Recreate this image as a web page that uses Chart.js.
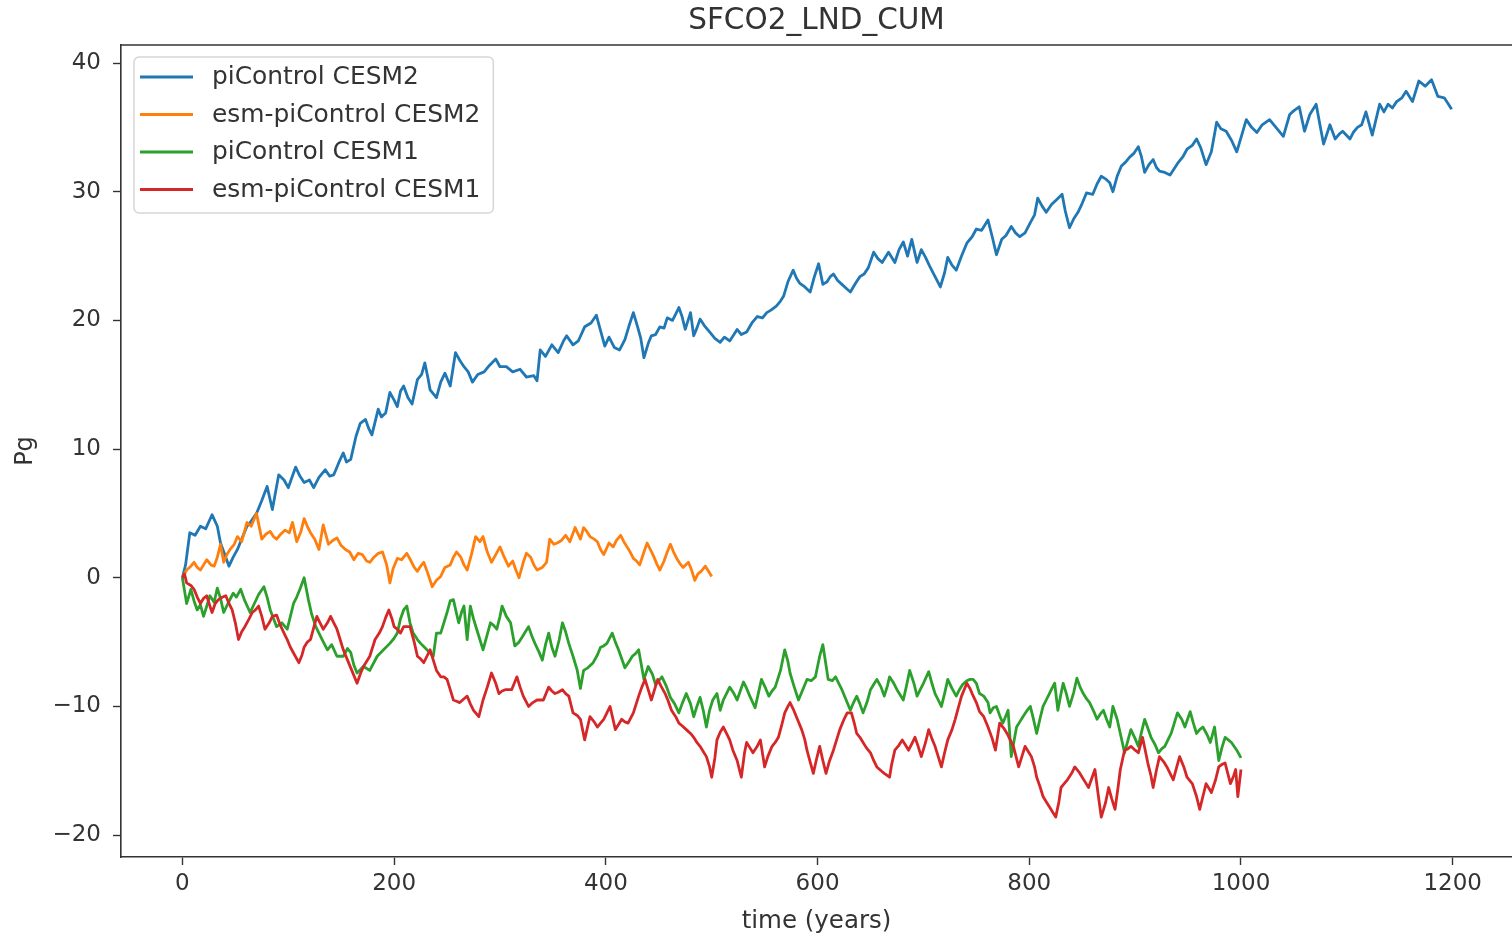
<!DOCTYPE html>
<html><head><meta charset="utf-8">
<script src="https://cdn.jsdelivr.net/npm/chart.js@4.4.1/dist/chart.umd.min.js"></script>
<style>html,body{margin:0;padding:0;background:#fff;overflow:hidden}#wrap{width:1512px;height:939px}</style>
</head><body><div id="wrap"><canvas id="c" width="1512" height="939"></canvas></div>
<script>
const titleText = 'SFCO2_LND_CUM';
const xLabel = 'time (years)';
const yLabel = 'Pg';
const seriesNames = ['piControl CESM2', 'esm-piControl CESM2', 'piControl CESM1', 'esm-piControl CESM1'];
const seriesColors = ['#1f77b4', '#ff7f0e', '#2ca02c', '#d62728'];
const xTicks = [0, 200, 400, 600, 800, 1000, 1200];
const yTicks = [-20, -10, 0, 10, 20, 30, 40];

const blueYears = [0,3,7,12,17,22,28,33,36,40,44,48,52,56,61,65,70,75,80,85,91,96,100,107,111,115,120,124,129,135,139,143,148,152,155,159,164,168,173,176,179,185,188,192,196,200,203,206,209,213,217,222,226,229,232,234,240,244,248,253,258,262,266,270,274,279,285,290,296,300,306,312,319,325,332,335,338,343,349,355,360,363,369,374,380,386,391,395,399,403,408,413,418,422,426,430,433,436,440,443,447,451,455,458,463,469,472,475,480,483,486,489,493,498,503,508,512,517,521,524,528,533,538,543,548,552,556,561,565,568,572,577,580,583,588,593,597,601,605,609,612,615,619,623,627,631,636,640,644,648,653,657,661,667,670,673,677,681,685,689,694,698,702,706,711,716,720,723,727,731,736,741,746,750,755,761,765,769,774,778,783,787,791,796,801,805,808,812,816,821,826,831,834,838,842,846,850,854,860,864,868,872,876,879,883,887,891,895,899,903,906,909,913,917,920,923,928,933,937,941,945,949,954,958,962,967,972,977,981,986,991,996,1000,1005,1010,1015,1020,1027,1033,1040,1046,1050,1055,1060,1065,1071,1075,1078,1084,1089,1093,1096,1103,1106,1110,1114,1118,1124,1131,1135,1139,1143,1147,1152,1156,1162,1168,1174,1180,1186,1192,1196,1199];
const blueVals = [0,1.0,3.5,3.3,4.0,3.8,4.9,4.0,2.7,1.8,0.9,1.6,2.2,3.0,4.0,4.4,5.0,6.0,7.1,5.3,8.0,7.6,7.0,8.6,7.9,7.4,7.6,7.0,7.8,8.4,7.9,8.0,9.0,9.7,9.0,9.2,11.0,12.0,12.3,11.6,11.1,13.1,12.5,12.8,14.4,13.8,13.3,14.5,14.9,14.0,13.5,15.4,15.8,16.7,15.5,14.6,14.0,15.2,15.9,14.9,17.5,16.9,16.4,16.0,15.2,15.8,16.0,16.5,17.0,16.4,16.4,16.0,16.2,15.6,15.7,15.3,17.7,17.2,18.1,17.5,18.4,18.8,18.1,18.4,19.5,19.8,20.4,19.2,18.0,18.7,17.9,17.7,18.5,19.6,20.6,19.5,18.6,17.1,18.2,18.8,18.9,19.5,19.4,20.2,20.0,21.0,20.3,19.3,20.6,18.8,19.4,20.1,19.6,19.1,18.6,18.3,18.7,18.4,18.9,19.3,18.9,19.1,19.8,20.3,20.2,20.6,20.8,21.1,21.5,21.9,23.0,23.9,23.3,22.9,22.6,22.2,23.4,24.4,22.8,23.0,23.4,23.6,23.1,22.8,22.5,22.2,22.9,23.4,23.6,24.1,25.3,24.8,24.5,25.3,24.9,24.5,25.5,26.1,25.0,26.3,24.5,25.5,24.9,24.2,23.4,22.6,23.7,24.9,24.3,23.9,25.0,26.0,26.5,27.1,27.0,27.8,26.5,25.1,26.3,26.6,27.3,26.8,26.5,26.8,27.6,28.2,29.5,28.9,28.4,29.0,29.4,29.8,28.5,27.2,27.9,28.4,29.1,29.9,29.8,30.6,31.2,31.0,30.7,30.0,31.2,32.0,32.3,32.7,33.0,33.5,32.7,31.5,32.1,32.5,31.9,31.6,31.5,31.3,31.8,32.3,32.7,33.3,33.6,34.1,33.4,32.1,33.1,35.4,34.9,34.7,34.0,33.1,34.2,35.6,35.0,34.6,35.2,35.6,35.0,34.3,36.0,36.3,36.6,34.7,36.0,36.8,35.0,33.7,35.2,34.1,34.5,34.7,34.1,34.6,35.0,35.2,36.2,34.4,36.8,36.2,36.8,36.5,37.0,37.3,37.8,37.0,38.6,38.2,38.7,37.4,37.3,36.8,36.4];

const orangeYears = [0,4,8,11,14,17,20,23,27,30,33,36,39,42,45,49,52,56,61,65,70,75,79,83,86,89,93,97,101,104,108,112,115,118,121,125,129,133,138,142,146,150,154,158,162,166,170,174,177,181,185,189,193,196,199,203,207,212,216,219,222,225,228,232,236,240,244,248,253,256,259,263,266,269,273,277,281,284,288,292,296,300,304,308,312,315,318,322,325,329,332,335,340,344,347,351,354,358,362,366,371,376,379,382,385,389,392,395,398,403,407,410,414,417,420,423,426,429,432,436,439,442,445,448,451,455,458,461,464,467,470,473,478,481,484,487,490,494,497,500];
const orangeVals = [0,0.6,0.9,1.2,0.8,0.6,1.0,1.4,1.0,0.9,1.6,2.6,1.2,1.8,2.2,2.6,3.2,2.8,4.3,4.0,5.0,3.0,3.4,3.6,3.2,3.0,3.4,3.7,3.5,4.3,2.8,3.6,4.6,4.0,3.5,3.0,2.2,4.1,2.6,2.9,3.1,2.5,2.2,2.0,1.4,1.9,1.8,1.3,1.2,1.6,1.9,2.0,1.0,-0.4,0.7,1.5,1.4,1.9,1.3,0.8,0.5,0.9,1.2,0.3,-0.7,-0.2,0.1,0.8,1.0,1.6,2.0,1.6,1.0,0.6,1.8,3.2,2.8,3.2,2.0,1.2,1.8,2.4,1.6,0.9,1.3,0.6,0.0,1.2,1.9,1.6,1.0,0.6,0.8,1.2,3.0,2.6,2.7,2.9,3.3,2.8,3.9,3.0,3.9,3.6,3.2,3.0,2.8,2.2,1.8,2.7,2.4,2.9,3.3,2.8,2.4,2.0,1.5,1.3,1.0,2.0,2.7,2.2,1.7,1.1,0.6,1.3,2.0,2.6,2.0,1.5,1.1,0.8,1.2,0.6,-0.2,0.3,0.5,0.9,0.5,0.1];

const greenYears = [0,2,4,8,11,14,17,20,23,26,30,33,36,39,43,48,51,55,59,64,68,72,77,80,83,89,94,99,102,105,108,111,115,119,122,126,132,137,141,146,152,156,159,162,165,171,177,184,190,196,200,203,206,209,212,215,218,222,225,231,237,240,244,247,250,253,256,259,261,264,266,269,272,275,278,281,284,288,291,294,297,300,302,306,310,314,318,321,324,327,330,333,337,340,343,346,349,352,356,359,362,365,369,373,376,379,383,388,392,395,398,401,406,409,412,415,418,422,425,428,431,436,440,444,447,450,453,457,461,465,469,472,476,480,483,486,489,492,495,498,501,505,508,511,514,517,521,524,527,530,533,536,541,544,547,551,554,557,560,565,569,572,574,578,582,586,590,594,598,602,605,608,610,614,617,620,623,627,631,634,637,640,643,647,650,653,656,660,663,666,668,672,675,681,684,687,691,694,697,700,705,708,711,714,717,720,723,727,731,734,737,741,744,747,750,753,757,761,763,766,769,772,775,778,780,783,786,788,791,794,798,801,804,807,810,813,816,819,822,824,827,830,832,835,838,842,845,848,851,854,857,861,864,867,870,873,876,879,883,886,890,893,896,900,903,906,909,912,915,919,922,925,928,931,934,937,940,944,947,952,955,958,961,964,968,971,975,979,982,985,988,991,996,1000];
const greenVals = [0,-1.0,-2.0,-0.9,-1.8,-2.5,-2.1,-3.0,-2.2,-1.4,-1.9,-0.8,-1.6,-2.7,-2.0,-1.2,-1.5,-0.9,-1.8,-2.7,-2.0,-1.3,-0.7,-1.5,-2.5,-3.8,-3.5,-4.0,-3.0,-2.0,-1.5,-0.9,0.0,-1.7,-2.8,-3.8,-4.8,-5.6,-5.2,-6.1,-6.1,-5.5,-5.8,-6.8,-7.4,-6.9,-7.2,-6.1,-5.6,-5.1,-4.7,-4.3,-3.2,-2.5,-2.2,-3.5,-4.3,-4.8,-5.1,-5.6,-6.1,-4.3,-4.3,-3.5,-2.7,-1.8,-1.7,-2.8,-3.5,-2.6,-2.2,-4.8,-2.2,-3.2,-4.0,-4.8,-5.6,-4.4,-3.5,-3.7,-4.0,-3.0,-2.2,-3.0,-3.5,-5.3,-5.0,-4.6,-4.2,-3.8,-4.5,-5.1,-5.8,-6.4,-5.2,-4.3,-5.4,-6.1,-4.8,-3.5,-4.2,-5.1,-6.1,-7.2,-8.6,-7.2,-7.0,-6.6,-6.0,-5.4,-5.3,-5.1,-4.3,-5.0,-5.6,-6.3,-7.0,-6.5,-6.1,-5.9,-5.6,-7.9,-6.9,-7.5,-8.3,-8.0,-7.7,-8.4,-9.3,-9.8,-10.5,-9.8,-9.0,-9.8,-10.8,-10.0,-9.3,-10.3,-11.6,-10.3,-9.5,-9.0,-10.3,-9.5,-9.0,-8.5,-9.0,-9.5,-8.8,-8.1,-8.6,-9.2,-10.1,-9.0,-7.9,-8.6,-9.2,-8.8,-8.5,-7.2,-5.6,-6.5,-7.4,-8.5,-9.5,-8.7,-7.9,-8.0,-7.7,-6.1,-5.2,-6.8,-7.9,-8.0,-7.7,-8.2,-8.7,-9.5,-10.3,-9.7,-9.2,-9.8,-10.5,-9.6,-8.7,-8.3,-7.9,-8.5,-9.2,-8.4,-7.7,-8.2,-8.7,-9.5,-8.4,-7.2,-8.2,-9.2,-8.7,-8.2,-7.3,-8.2,-9.0,-9.5,-10.0,-9.0,-7.9,-8.6,-9.2,-8.7,-8.3,-8.0,-7.9,-7.9,-8.2,-9.0,-9.2,-9.7,-10.5,-10.1,-10.0,-10.7,-11.3,-10.7,-10.3,-13.9,-12.5,-11.6,-11.2,-10.8,-10.3,-10.0,-11.0,-12.1,-11.0,-10.0,-9.5,-9.0,-8.5,-8.2,-10.3,-9.0,-8.2,-9.0,-10.0,-8.9,-7.8,-8.5,-9.0,-9.4,-9.7,-10.4,-11.0,-10.6,-10.3,-11.0,-11.6,-10.0,-11.0,-12.1,-13.6,-12.7,-11.8,-12.5,-13.1,-12.0,-11.0,-11.7,-12.4,-13.0,-13.6,-13.3,-13.1,-12.6,-12.1,-11.3,-10.5,-11.0,-11.6,-10.4,-11.3,-12.1,-11.8,-11.6,-12.2,-12.8,-11.6,-14.2,-13.2,-12.4,-12.6,-12.8,-13.4,-14.0];

const redYears = [0,2,4,8,11,14,17,20,23,26,28,31,34,38,41,44,47,50,53,56,59,63,66,69,72,75,78,82,85,89,92,96,99,102,106,110,113,115,118,121,124,127,130,133,137,140,143,146,149,152,156,160,165,168,171,174,177,182,186,189,192,195,198,200,203,206,209,212,215,219,222,225,228,231,234,237,240,244,247,250,253,256,259,262,266,269,272,275,280,284,288,292,296,299,302,305,308,311,316,319,322,327,331,335,338,341,346,349,352,355,359,362,365,369,373,376,380,383,385,389,392,395,398,401,404,409,412,415,418,421,426,431,434,437,440,443,446,449,452,456,459,462,466,469,472,476,480,483,486,489,492,495,498,500,503,505,508,511,514,517,520,524,528,531,533,536,539,543,546,550,553,557,560,563,566,569,572,574,577,580,585,588,590,593,596,599,602,605,608,611,615,618,621,625,628,632,635,637,640,643,646,650,653,656,660,663,668,670,673,677,680,683,686,689,692,695,698,702,705,708,711,714,717,720,723,727,730,733,736,741,744,746,750,753,757,761,765,768,772,776,779,782,785,790,793,796,799,802,805,807,810,813,816,819,822,825,828,830,833,836,840,843,847,850,853,856,859,862,865,868,872,875,878,881,884,886,890,893,896,900,903,907,912,915,917,920,923,927,930,933,936,939,942,946,949,952,954,958,961,964,967,970,972,976,979,982,985,990,993,995,997,1000];
const redVals = [0,0.3,-0.4,-0.6,-0.9,-1.5,-2.0,-1.6,-1.4,-2.2,-2.7,-2.0,-1.7,-1.5,-1.4,-2.0,-2.5,-3.5,-4.8,-4.2,-3.8,-3.2,-2.7,-2.5,-2.2,-3.0,-4.0,-3.5,-3.0,-2.9,-3.6,-4.3,-4.8,-5.4,-6.0,-6.6,-6.0,-5.4,-5.0,-4.8,-3.9,-3.0,-3.5,-4.0,-3.5,-3.0,-3.5,-4.0,-4.8,-5.6,-6.4,-7.2,-8.2,-7.5,-6.9,-6.5,-6.1,-4.8,-4.3,-3.8,-3.1,-2.5,-3.2,-3.8,-4.0,-4.3,-3.8,-3.8,-3.8,-5.0,-6.1,-6.3,-6.6,-6.1,-5.6,-6.4,-7.2,-7.7,-7.7,-7.9,-8.7,-9.5,-9.6,-9.7,-9.4,-9.2,-9.8,-10.3,-10.8,-9.5,-8.5,-7.4,-8.2,-9.0,-8.8,-8.7,-8.7,-8.7,-7.7,-8.5,-9.2,-10.0,-9.7,-9.5,-9.5,-9.5,-8.5,-8.8,-9.0,-8.9,-8.7,-9.0,-9.2,-10.5,-10.7,-11.0,-12.6,-11.5,-10.8,-11.2,-11.6,-11.3,-11.0,-10.5,-10.0,-11.8,-11.4,-11.0,-11.2,-11.3,-10.5,-9.2,-8.5,-7.9,-8.7,-9.5,-8.7,-7.9,-8.4,-9.0,-9.6,-10.3,-10.8,-11.3,-11.5,-11.8,-12.1,-12.4,-12.8,-13.1,-13.5,-13.9,-14.7,-15.5,-14.0,-12.6,-12.0,-11.6,-12.1,-12.6,-13.4,-14.2,-15.5,-13.6,-12.8,-13.2,-13.6,-13.1,-12.6,-14.7,-13.9,-13.1,-12.8,-12.4,-11.5,-10.5,-10.0,-9.7,-10.2,-10.8,-11.8,-12.6,-13.4,-14.3,-15.2,-14.1,-13.1,-14.2,-15.2,-14.3,-13.4,-12.6,-11.8,-11.0,-10.5,-10.5,-11.4,-12.1,-12.4,-12.8,-13.2,-13.6,-14.2,-14.7,-15.0,-15.2,-15.5,-14.5,-13.4,-13.0,-12.6,-13.0,-13.4,-12.9,-12.4,-13.1,-13.9,-12.8,-11.8,-12.5,-13.1,-13.9,-14.7,-13.6,-12.6,-11.8,-11.0,-10.1,-9.2,-8.2,-8.6,-9.0,-9.7,-10.4,-10.8,-11.6,-12.5,-13.4,-11.3,-11.7,-12.1,-12.6,-13.1,-14.7,-13.9,-13.1,-13.5,-13.9,-14.7,-15.5,-16.2,-17.0,-17.4,-17.8,-18.2,-18.6,-17.4,-16.3,-16.0,-15.7,-15.2,-14.7,-15.1,-15.5,-15.9,-16.3,-15.6,-14.9,-16.8,-18.6,-17.5,-16.3,-17.2,-18.0,-16.2,-14.9,-13.4,-13.3,-13.1,-13.4,-13.6,-12.4,-14.4,-15.4,-16.3,-15.0,-13.9,-14.3,-14.7,-15.2,-15.7,-14.8,-13.9,-14.7,-15.5,-15.8,-16.0,-17.0,-18.0,-17.0,-16.0,-16.4,-16.7,-15.7,-14.7,-14.5,-14.4,-16.0,-15.4,-14.9,-17.0,-14.9];

const FONT = 'DejaVu Sans';
const TEXT = '#333333';
const pts = (xs, ys) => xs.map((x, i) => ({x: x, y: ys[i]}));
const seriesData = [pts(blueYears, blueVals), pts(orangeYears, orangeVals), pts(greenYears, greenVals), pts(redYears, redVals)];

const frame = {
  id: 'frame',
  afterDraw(chart) {
    const ctx = chart.ctx, ca = chart.chartArea;
    ctx.save();
    ctx.strokeStyle = '#333'; ctx.lineWidth = 1.6;
    ctx.beginPath(); ctx.moveTo(ca.left, ca.top); ctx.lineTo(ca.right, ca.top); ctx.stroke();
    ctx.fillStyle = TEXT; ctx.font = '29.5px "' + FONT + '"';
    ctx.textAlign = 'center'; ctx.textBaseline = 'middle';
    ctx.fillText(titleText, (ca.left + ca.right) / 2, 21);
    ctx.font = '24.9px "' + FONT + '"';
    const ds = chart.data.datasets;
    const tw = Math.max(...ds.map(d => ctx.measureText(d.label).width));
    const x0 = ca.left + 13, y0 = ca.top + 12;
    const w = 78 + tw + 13, h = 156, r = 5;
    ctx.beginPath();
    ctx.moveTo(x0 + r, y0); ctx.lineTo(x0 + w - r, y0); ctx.arcTo(x0 + w, y0, x0 + w, y0 + r, r);
    ctx.lineTo(x0 + w, y0 + h - r); ctx.arcTo(x0 + w, y0 + h, x0 + w - r, y0 + h, r);
    ctx.lineTo(x0 + r, y0 + h); ctx.arcTo(x0, y0 + h, x0, y0 + h - r, r);
    ctx.lineTo(x0, y0 + r); ctx.arcTo(x0, y0, x0 + r, y0, r); ctx.closePath();
    ctx.fillStyle = 'rgba(255,255,255,0.8)'; ctx.fill();
    ctx.strokeStyle = '#d6d6d6'; ctx.lineWidth = 1.5; ctx.stroke();
    ds.forEach((d, i) => {
      const y = y0 + 20 + i * 37.5;
      ctx.beginPath(); ctx.moveTo(x0 + 6, y); ctx.lineTo(x0 + 59, y);
      ctx.strokeStyle = d.borderColor; ctx.lineWidth = 3.2; ctx.stroke();
      ctx.fillStyle = TEXT; ctx.textAlign = 'left'; ctx.textBaseline = 'middle';
      ctx.fillText(d.label, x0 + 78, y + 1);
    });
    ctx.restore();
  }
};

const minusFmt = v => String(v).replace('-', '\u2212');

new Chart(document.getElementById('c'), {
  type: 'line',
  data: {
    datasets: seriesNames.map((name, i) => ({
      label: name,
      data: seriesData[i],
      borderColor: seriesColors[i],
      backgroundColor: seriesColors[i],
      borderWidth: 2.8,
      pointRadius: 0,
      tension: 0,
      fill: false,
      borderJoinStyle: 'round',
      order: 4 - i
    }))
  },
  options: {
    responsive: false,
    animation: false,
    devicePixelRatio: 1,
    layout: {padding: {top: 45, right: 0, bottom: 0, left: 0}},
    plugins: {legend: {display: false}, title: {display: false}, tooltip: {enabled: false}},
    scales: {
      x: {
        type: 'linear', min: -58, max: 1256,
        afterFit: s => { s.height = 82; },
        afterBuildTicks: s => { s.ticks = xTicks.map(v => ({value: v})); },
        grid: {drawOnChartArea: false, drawTicks: true, tickLength: 8, color: '#333', tickWidth: 1.4},
        border: {display: true, color: '#333', width: 1.6},
        ticks: {color: TEXT, font: {family: FONT, size: 23}, padding: 5, maxRotation: 0, callback: minusFmt},
        title: {display: true, text: xLabel, color: TEXT, font: {family: FONT, size: 24.5}, padding: {top: 0, bottom: 3}}
      },
      y: {
        type: 'linear', min: -21.7, max: 41.4,
        afterFit: s => { s.width = 121; },
        afterBuildTicks: s => { s.ticks = yTicks.map(v => ({value: v})); },
        grid: {drawOnChartArea: false, drawTicks: true, tickLength: 8, color: '#333', tickWidth: 1.4},
        border: {display: true, color: '#333', width: 1.6},
        ticks: {color: TEXT, font: {family: FONT, size: 23}, padding: 12, callback: minusFmt},
        title: {display: true, text: yLabel, color: TEXT, font: {family: FONT, size: 24}, padding: {top: 11, bottom: 0}}
      }
    }
  },
  plugins: [frame]
});
</script>
</body></html>
